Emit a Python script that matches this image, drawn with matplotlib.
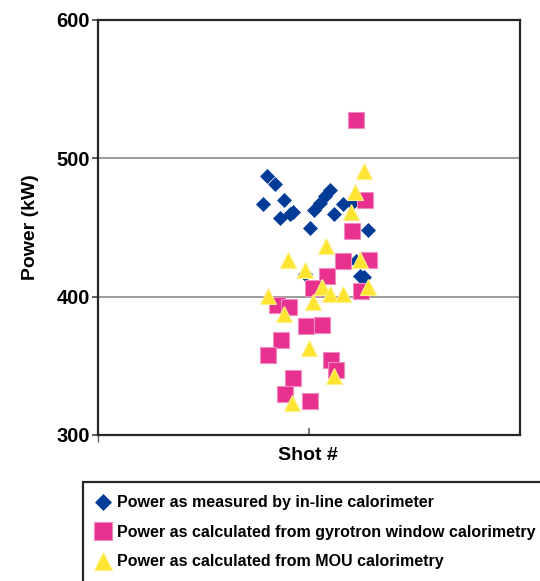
import matplotlib
matplotlib.use("Agg")
import matplotlib.pyplot as plt
from matplotlib.patches import Rectangle

# shot position (arbitrary units along the x axis) and power in kW
inline_x = [0.779, 0.799, 0.838, 0.880, 0.861, 0.907, 0.923, 1.002, 1.021, 1.051,
            1.075, 1.100, 1.119, 1.159, 1.201, 1.280, 1.223, 1.239, 1.260, 0.982]
inline_kw = [467.2, 486.9, 481.3, 469.9, 456.5, 459.7, 461.3, 449.9, 462.9, 467.7,
             472.5, 477.3, 459.7, 467.2, 467.7, 448.0, 425.6, 415.2, 413.9, 416.5]

window_x = [1.224, 1.263, 1.201, 1.162, 1.283, 1.083, 1.018, 1.244, 0.846, 0.903,
            0.985, 1.062, 0.864, 0.805, 1.103, 1.126, 0.923, 0.884, 1.002]
window_kw = [528.0, 469.9, 447.2, 425.9, 426.4, 415.2, 405.9, 404.0, 393.9, 392.5,
             378.7, 379.7, 368.5, 357.9, 353.9, 347.2, 341.3, 329.9, 324.5]

mou_x = [1.260, 1.219, 1.198, 1.080, 0.900, 1.239, 0.979, 1.059, 1.280, 0.802,
         1.100, 1.159, 1.018, 0.880, 0.998, 1.119, 0.920]
mou_kw = [490.7, 476.0, 461.1, 436.5, 426.4, 426.4, 419.2, 407.2, 407.2, 400.5,
          401.9, 401.9, 396.5, 387.2, 362.7, 342.7, 323.2]

labels = ["Power as measured by in-line calorimeter",
          "Power as calculated from gyrotron window calorimetry",
          "Power as calculated from MOU calorimetry"]

plt.rcParams['font.family'] = ["Liberation Sans", "DejaVu Sans"]
plt.rcParams['font.weight'] = 'bold'

fig = plt.figure(figsize=(5.4, 5.81), dpi=100)
ax = fig.add_axes([0.1824, 0.2513, 0.7806, 0.7143])

ax.plot(inline_x, inline_kw, 'D', ms=6.8, color='#003c97', mec='#003c97',
        mew=0.5, label=labels[0])
ax.plot(window_x, window_kw, 's', ms=11, color='#e8308e', mec='#f28cc0',
        mew=0.8, label=labels[1])
ax.plot(mou_x, mou_kw, '^', ms=11, color='#ffe531', mec='#fff08a',
        mew=0.8, label=labels[2])

ax.set_xlim(0, 2)
ax.set_ylim(300, 600)
ax.set_yticks([300, 400, 500, 600])
ax.set_xticks([1])
ax.set_xticklabels([])
ax.set_xticks([0], minor=True)
ax.yaxis.grid(True, color='#808080', lw=1.1)
ax.set_axisbelow(True)
for s in ax.spines.values():
    s.set_color('#262626')
    s.set_linewidth(1.6)

ax.tick_params(axis='y', direction='out', length=4.5, width=1.2,
               color='#404040', pad=1.5, labelsize=14.5)
ax.tick_params(axis='x', which='major', direction='in', length=5, width=1.2,
               color='#606060')
ax.tick_params(axis='x', which='minor', direction='out', length=5, width=1.0,
               color='#606060')

ax.set_ylabel("Power (kW)", fontsize=14, fontweight='bold')
ax.yaxis.set_label_coords(-0.142, 0.5)
ax.set_xlabel("Shot #", fontsize=14, fontweight='bold')
ax.xaxis.set_label_coords(0.497, -0.028)

# legend box runs off the right and bottom edges of the figure
fig.patches.append(Rectangle((82.7 / 540, -0.2), 1.0, 1 - 481.7 / 581 + 0.2,
                             transform=fig.transFigure, fill=False,
                             edgecolor='#262626', lw=1.6))
h, l = ax.get_legend_handles_labels()
leg = fig.legend(h, l, loc='upper left', bbox_to_anchor=(95 / 540, 1 - 495.5 / 581),
                 frameon=False, fontsize=11.5, handlelength=1.0,
                 handletextpad=0.375, labelspacing=0.9, borderaxespad=0,
                 borderpad=0, markerscale=1.15)

fig.savefig("out.png", dpi=100)
